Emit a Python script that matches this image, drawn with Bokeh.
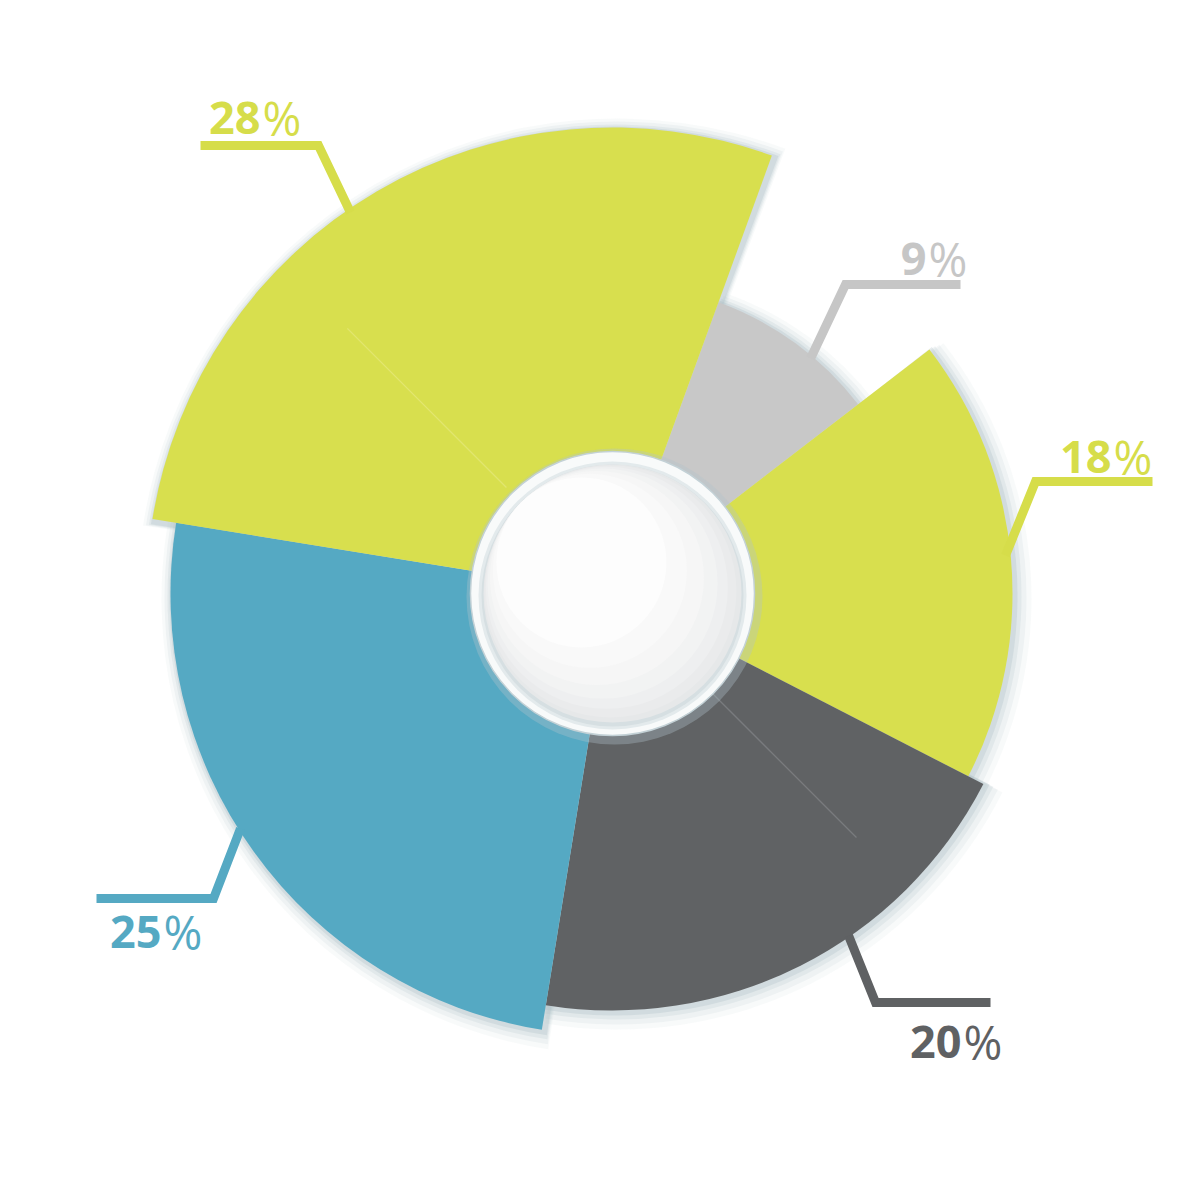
import math
from bokeh.plotting import figure
from bokeh.models import Range1d
from bokeh.core.properties import value
from bokeh.embed import file_html
from bokeh.resources import INLINE

# ---- data (clockwise from the top-right edge) ----
labels = ["9", "18", "20", "25", "28"]
values = [9, 18, 20, 25, 28]
outer_radius = [310, 400, 417, 442, 466]
colors = ["#C8C8C8", "#D8DF4E", "#606264", "#55A9C3", "#D8DF4E"]
label_colors = ["#C6C6C6", "#D6DD4A", "#5F6163", "#55A9C3", "#D6DD4A"]

# ---- layout (image pixel coords, y down) ----
W = H = 1200
CX, CY = 612, 593
START_DEG = 70.0
label_anchor = [(926, 258), (1111, 456), (961, 1041), (161, 931), (260, 117)]
leaders = [
    [(960, 284), (845, 284), (810, 358)],
    [(1152, 481), (1035, 481), (1005, 555)],
    [(990, 1002), (875, 1002), (848, 935)],
    [(96, 898), (213, 898), (240, 828)],
    [(200, 145), (318, 145), (350, 212)],
]


def fy(y):
    return H - y


cx, cy = CX, fy(CY)

p = figure(width=W, height=H, x_range=Range1d(0, W), y_range=Range1d(0, H),
           x_axis_type=None, y_axis_type=None, toolbar_location=None,
           output_backend="svg", min_border=0, outline_line_color=None,
           background_fill_color="white", border_fill_color="white")
p.grid.visible = False

total = float(sum(values))
starts, ends = [], []
a = START_DEG
for v in values:
    span = 360.0 * v / total
    ends.append(math.radians(a))
    starts.append(math.radians(a - span))
    a -= span

n = len(values)
# soft shadows (light from the top-left)
for extra, alpha, dx in [(14, 0.08, 5), (10, 0.12, 4), (6, 0.18, 3), (3, 0.28, 2)]:
    p.wedge(x=[cx + dx] * n, y=[cy - dx] * n, radius=[r + extra for r in outer_radius],
            start_angle=[s - 0.008 for s in starts], end_angle=[e + 0.008 for e in ends],
            fill_color="#A9BBC2", fill_alpha=alpha, line_color=None)

# wedges
p.wedge(x=[cx] * n, y=[cy] * n, radius=outer_radius,
        start_angle=starts, end_angle=ends, fill_color=colors, line_color=None)

# subtle fold lines
for ang, r0, r1, col in [(135, 150, 375, "#E3E778"), (-45, 140, 345, "#808284")]:
    t = math.radians(ang)
    p.segment(x0=[cx + r0 * math.cos(t)], y0=[cy + r0 * math.sin(t)],
              x1=[cx + r1 * math.cos(t)], y1=[cy + r1 * math.sin(t)],
              line_color=col, line_width=1.3, line_alpha=0.8)

# center disc
p.circle(x=[cx + 2], y=[cy - 3], radius=148, fill_color="#B3C3CA", fill_alpha=0.35, line_color=None)
p.circle(x=[cx], y=[cy], radius=142, fill_color="#F8FAFA", line_color="#C3D1D6", line_width=1.5)
p.circle(x=[cx], y=[cy - 2], radius=134, fill_color="#E3EAEC", line_color=None)
p.circle(x=[cx], y=[cy - 2], radius=131, fill_color="#D6DFE2", line_color=None)
p.circle(x=[cx], y=[cy], radius=129, fill_color="#E6E8E9", line_color=None)
for r, off, col in [(126, 3, "#EAEBEC"), (121, 8, "#EEEFF0"), (115, 14, "#F2F3F3"),
                    (107, 22, "#F6F6F6"), (97, 32, "#F9F9F9"), (85, 44, "#FDFDFD")]:
    p.circle(x=[cx - off * 0.7071], y=[cy + off * 0.7071], radius=r, fill_color=col, line_color=None)

# leader lines
for pts, col in zip(leaders, label_colors):
    p.line(x=[q[0] for q in pts], y=[fy(q[1]) for q in pts], line_color=col,
           line_width=9, line_join="miter")

# labels
p.text(x=[q[0] for q in label_anchor], y=[fy(q[1]) for q in label_anchor], text=labels,
       text_align="right", text_baseline="alphabetic", text_color=label_colors,
       text_font=value("Open Sans"), text_font_style="bold", text_font_size="45px")
p.text(x=[q[0] + 2 for q in label_anchor], y=[fy(q[1]) for q in label_anchor],
       text=["%"] * n, text_align="left", text_baseline="alphabetic",
       text_color=label_colors, text_font=value("Open Sans"), text_font_style="normal",
       text_font_size="47px")

open("out.html", "w").write(file_html(p, INLINE))
